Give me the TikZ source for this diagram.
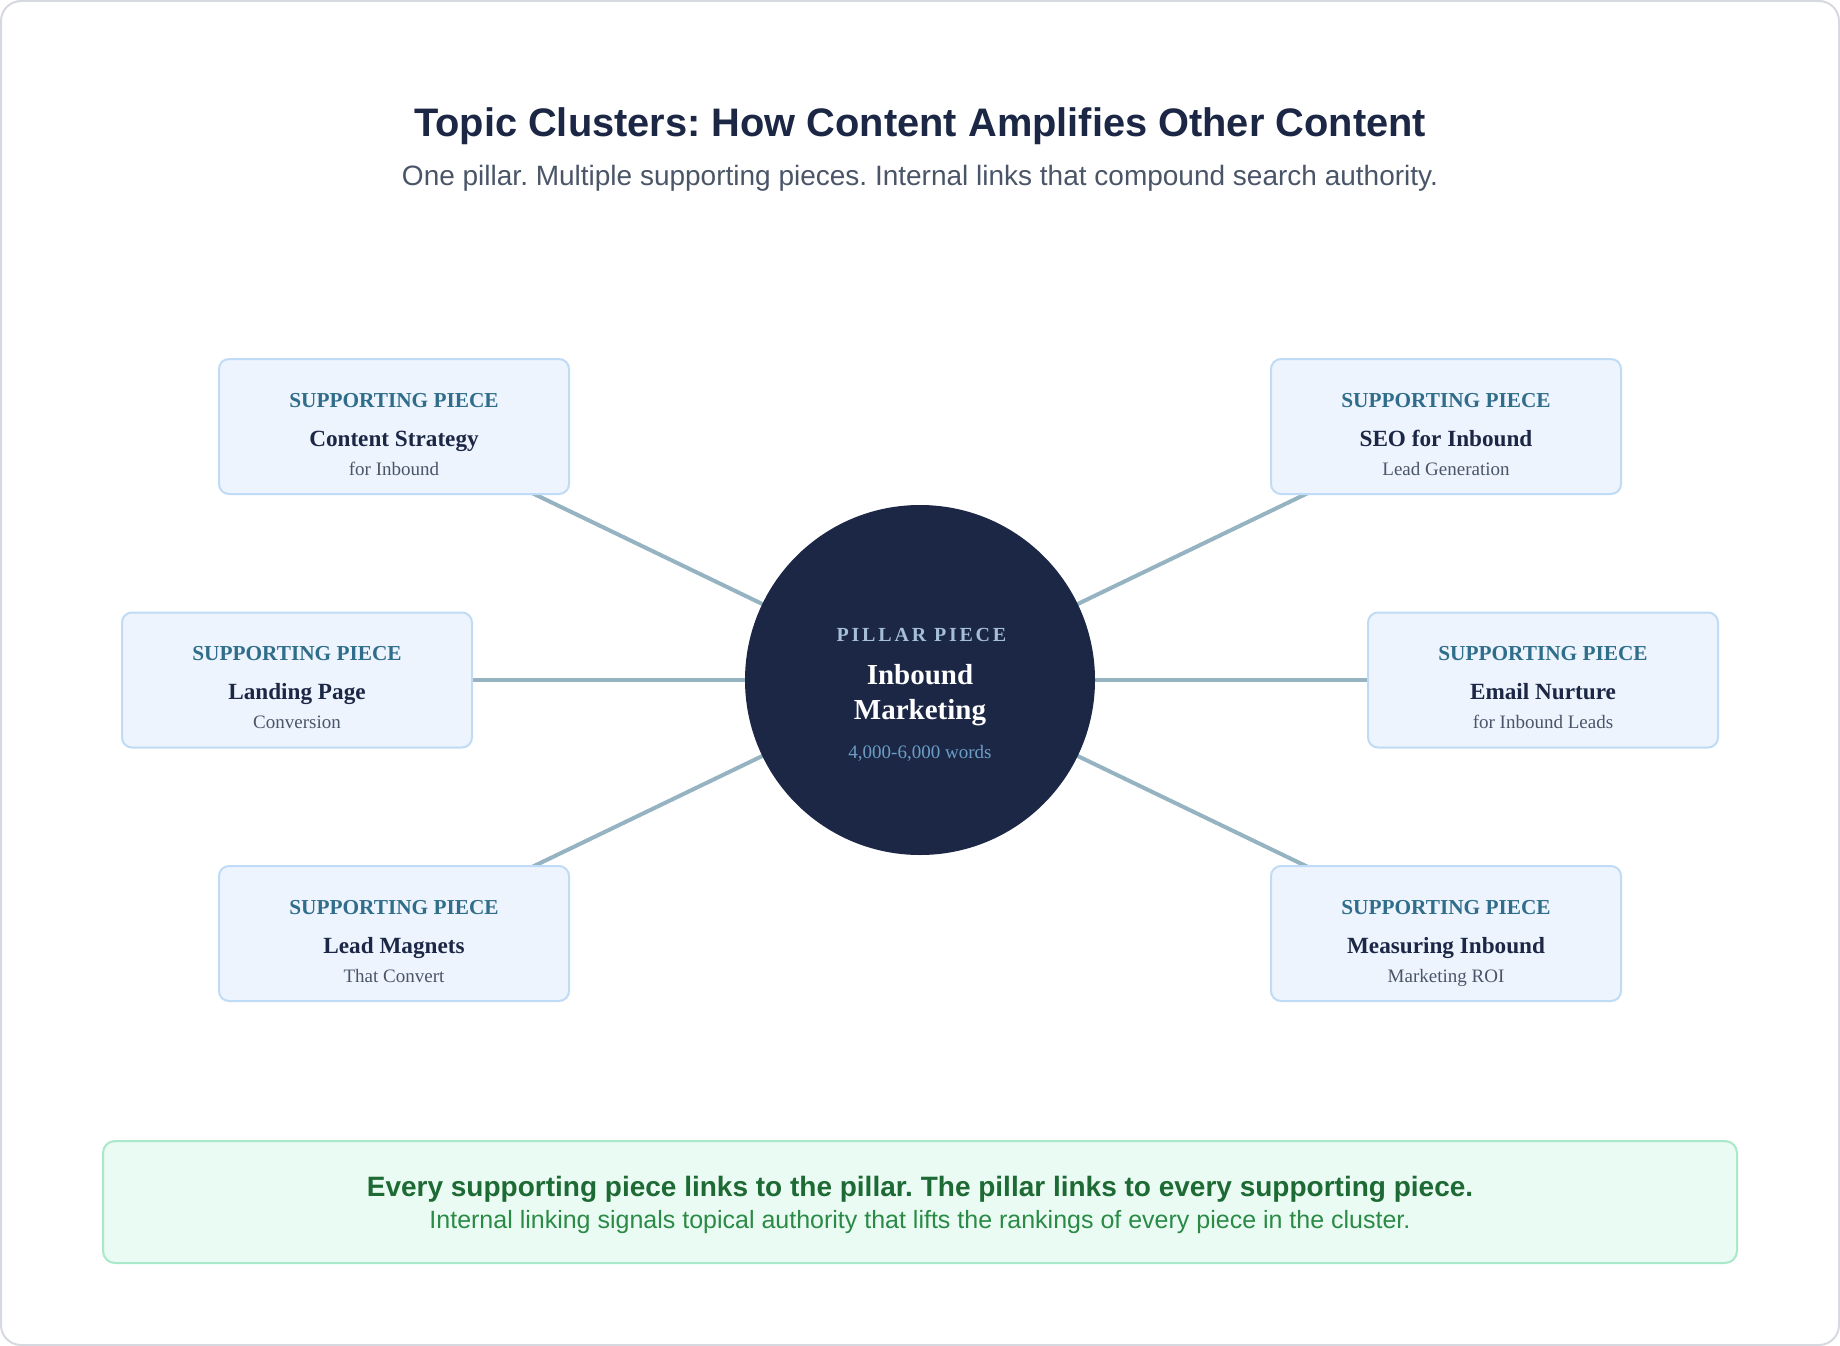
\documentclass[tikz,border=0pt]{standalone}
\usepackage{fontspec}
\setmainfont{Liberation Serif}
\setsansfont{Liberation Sans}
\usepackage{xcolor}
\usetikzlibrary{backgrounds}
\definecolor{inkdark}{HTML}{1B2745}
\definecolor{inkgray}{HTML}{4A5568}
\definecolor{framegray}{HTML}{D6D9DF}
\definecolor{piecefill}{HTML}{EDF4FE}
\definecolor{pieceline}{HTML}{BFDBF5}
\definecolor{piecelabel}{HTML}{2F6D8A}
\definecolor{spoke}{HTML}{96B3C1}
\definecolor{pillarlabel}{HTML}{A5BFD6}
\definecolor{pillarwords}{HTML}{6C9DC6}
\definecolor{notefill}{HTML}{E9FBF2}
\definecolor{noteline}{HTML}{A9E8CA}
\definecolor{notebold}{HTML}{1E6A35}
\definecolor{notetext}{HTML}{2A8A46}
\newcommand{\fsz}[1]{\fontsize{#1}{#1}\selectfont}
% one supporting piece: name, x, y, title, subline
\newcommand{\piece}[5]{%
  \node[piece] (#1) at (#2,#3) {};
  \node[plabel] (#1-l) at ([yshift=-49pt]#1.north) {SUPPORTING PIECE};
  \node[ptitle] (#1-t) at ([yshift=-88pt]#1.north) {#4};
  \node[psub] (#1-s) at ([yshift=-117pt]#1.north) {#5};
}
\frenchspacing

\begin{document}
\begin{tikzpicture}[x=1pt, y=-1pt,
  piece/.style={draw=pieceline, line width=2pt, fill=piecefill, rounded corners=10pt,
    minimum width=350pt, minimum height=135pt, inner sep=0pt},
  txt/.style={anchor=base, inner sep=0pt},
  plabel/.style={txt, font=\fsz{21.3}\bfseries, text=piecelabel},
  ptitle/.style={txt, font=\fsz{23.2}\bfseries, text=inkdark},
  psub/.style={txt, font=\fsz{19}, text=inkgray},
  spokeline/.style={line width=4pt, spoke}]
\useasboundingbox (0,0) rectangle (1840,1346);

\node[txt, font=\sffamily\bfseries\fsz{39.8}, text=inkdark] (title) at (920,136)
  {Topic Clusters: How Content Amplifies Other Content};
\node[txt, font=\sffamily\fsz{28}, text=inkgray] (subtitle) at (920,185)
  {One pillar. Multiple supporting pieces. Internal links that compound search authority.};

\node[circle, fill=inkdark, minimum size=350pt, inner sep=0pt] (pillar) at (920,680) {};
\node[txt, font=\bfseries\fsz{20}, text=pillarlabel] (pillar-l) at (921.5,641)
  {\addfontfeatures{LetterSpace=14}PILLAR PIECE};
\node[txt, font=\bfseries\fsz{29}, text=white] (pillar-t1) at (920,684) {Inbound};
\node[txt, font=\bfseries\fsz{29}, text=white] (pillar-t2) at (920,719) {Marketing};
\node[txt, font=\fsz{19}, text=pillarwords] (pillar-s) at (920,758) {4,000-6,000 words};

\piece{cs}{394}{426.5}{Content Strategy}{for Inbound}
\piece{lp}{297}{680}{Landing Page}{Conversion}
\piece{lm}{394}{933.5}{Lead Magnets}{That Convert}
\piece{seo}{1446}{426.5}{SEO for Inbound}{Lead Generation}
\piece{en}{1543}{680}{Email Nurture}{for Inbound Leads}
\piece{mi}{1446}{933.5}{Measuring Inbound}{Marketing ROI}

\node[draw=noteline, line width=2pt, fill=notefill, rounded corners=12pt,
  minimum width=1634pt, minimum height=122pt, inner sep=0pt] (note) at (920,1202) {};
\node[txt, font=\sffamily\bfseries\fsz{28}, text=notebold] (note-b) at (920,1196)
  {Every supporting piece links to the pillar. The pillar links to every supporting piece.};
\node[txt, font=\sffamily\fsz{25}, text=notetext] (note-s) at (920,1228)
  {Internal linking signals topical authority that lifts the rankings of every piece in the cluster.};

\begin{scope}[on background layer]
\draw[framegray, line width=2pt, fill=white, rounded corners=20pt] (1,1) rectangle (1839,1345);
\draw[spokeline] (pillar.center) -- (cs.center);
\draw[spokeline] (pillar.center) -- (lp.center);
\draw[spokeline] (pillar.center) -- (lm.center);
\draw[spokeline] (pillar.center) -- (seo.center);
\draw[spokeline] (pillar.center) -- (en.center);
\draw[spokeline] (pillar.center) -- (mi.center);
\end{scope}
\end{tikzpicture}
\end{document}
